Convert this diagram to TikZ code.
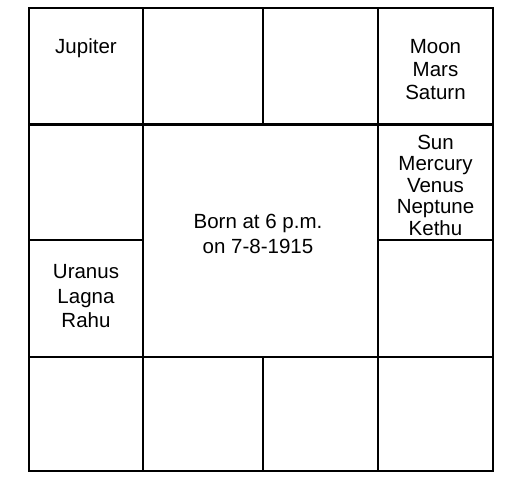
\documentclass[tikz,border=0pt]{standalone}
\usepackage{fontspec}
\setmainfont{Liberation Sans}
\begin{document}
\begin{tikzpicture}[x=1pt,y=-1pt,
  gridline/.style={line width=2.8pt,black},
  lbl/.style={anchor=north,inner sep=0pt,align=center,font=\fontsize{20.5}{#1}\selectfont},
  lbl/.default=23.5]
\useasboundingbox (0,0) rectangle (511,490);
% outer frame and grid
\coordinate (tl) at (29,8);
\coordinate (br) at (493,471);
\draw[gridline] (tl) rectangle (br);
% horizontal lines
\coordinate (h1l) at (29,124.5);  \coordinate (h1r) at (493,124.5);
\coordinate (h2l) at (29,240);    \coordinate (h2m) at (143,240);
\coordinate (h2n) at (378,240);   \coordinate (h2r) at (493,240);
\coordinate (h3l) at (29,357);    \coordinate (h3r) at (493,357);
\draw[gridline] (h1l) -- (h1r);
\draw[gridline] (h2l) -- (h2m);
\draw[gridline] (h2n) -- (h2r);
\draw[gridline] (h3l) -- (h3r);
% vertical lines
\coordinate (v1t) at (143,8);  \coordinate (v1b) at (143,471);
\coordinate (v2t) at (263,8);  \coordinate (v2m) at (263,124.5);
\coordinate (v2n) at (263,357); \coordinate (v2b) at (263,471);
\coordinate (v3t) at (378,8);  \coordinate (v3b) at (378,471);
\draw[gridline] (v1t) -- (v1b);
\draw[gridline] (v2t) -- (v2m);
\draw[gridline] (v2n) -- (v2b);
\draw[gridline] (v3t) -- (v3b);
% texts
\node[lbl] (jupiter) at (86,38) {Jupiter};
\node[lbl=23] (moon) at (435.5,39.5) {Moon\\Mars\\Saturn};
\node[lbl=21.5] (sun) at (435.5,134.5) {Sun\\Mercury\\Venus\\Neptune\\Kethu};
\node[lbl=24.5] (uranus) at (86,264.5) {Uranus\\Lagna\\Rahu};
\node[lbl=24.5] (born) at (258,214) {Born at 6 p.m.\\on 7-8-1915};
\end{tikzpicture}
\end{document}
